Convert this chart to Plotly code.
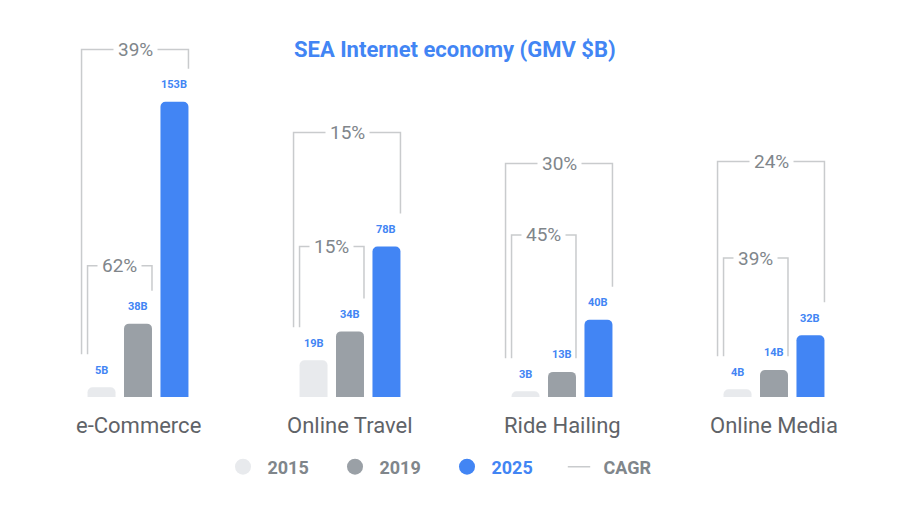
import numpy as np
import plotly.graph_objects as go

# --- DATA ---
categories = ["e-Commerce", "Online Travel", "Ride Hailing", "Online Media"]
gmv_2015 = [5, 19, 3, 4]
gmv_2019 = [38, 34, 13, 14]
gmv_2025 = [153, 78, 40, 32]
cagr_2015_2025 = ["39%", "15%", "30%", "24%"]
cagr_2015_2019 = ["62%", "15%", "45%", "39%"]

# --- LOOK ---
C_2015 = "#e8eaed"
C_2019 = "#9aa0a6"
C_2025 = "#4285f4"
C_LINE = "#c9cbcd"
C_TEXT = "#80868b"
FONT = "Roboto"

PAGE = 8                # the html body margin pushes the figure 8px right/down
W, H = 903 - 2 * PAGE, 508 - 2 * PAGE
PX_PER_UNIT_X = 212.0   # px between group centres
PX_PER_B = 1.93         # px per $B
BASE_PX = 397 - PAGE    # pixel row of the bar baseline (in figure px)

OFFSET = 0.172          # bar offset inside a group (group units)
BAR_W = 0.132
HALF = BAR_W / 2
LABEL_SHIFT = 17        # px between bar top and value label
LEG_GAP = 33 / PX_PER_B  # bracket leg stops this far above a bar (in $B)

# bracket heights ($B units)
outer_top = [180, 137, 121, 122]
inner_top = [68, 78, 84, 72]

x_grp = np.arange(len(categories), dtype=float)
x15, x19, x25 = x_grp - OFFSET, x_grp, x_grp + OFFSET

fig = go.Figure()

for xs, vals, col in [(x15, gmv_2015, C_2015), (x19, gmv_2019, C_2019), (x25, gmv_2025, C_2025)]:
    fig.add_trace(go.Bar(x=xs, y=vals, width=BAR_W, marker=dict(color=col, cornerradius=5, line_width=0),
                         showlegend=False, hoverinfo="skip"))

# CAGR brackets
bx, by = [], []
for i in range(len(categories)):
    left_end = gmv_2015[i] + LEG_GAP
    # outer bracket: 2015 -> 2025
    xl = x15[i] - HALF - 6 / PX_PER_UNIT_X
    xr = x25[i] + HALF
    bx += [xl, xl, xr, xr, None]
    by += [left_end, outer_top[i], outer_top[i], gmv_2025[i] + LEG_GAP, None]
    # inner bracket: 2015 -> 2019 (leg drops to the left leg level when the label sits clear of it)
    xl = x15[i] - HALF
    xr = x19[i] + HALF
    r_end = gmv_2019[i] + LEG_GAP if gmv_2019[i] > 20 else left_end
    bx += [xl, xl, xr, xr, None]
    by += [left_end, inner_top[i], inner_top[i], r_end, None]

fig.add_trace(go.Scatter(x=bx, y=by, mode="lines", line=dict(color=C_LINE, width=1.5),
                         showlegend=False, hoverinfo="skip"))

# legend entries
NB = "\u00a0"
fig.add_trace(go.Scatter(x=[None], y=[None], mode="markers", name=f"{NB}<b>2015</b>",
                         marker=dict(color=C_2015, size=17, symbol="circle")))
fig.add_trace(go.Scatter(x=[None], y=[None], mode="markers", name=f"{NB}<b>2019</b>",
                         marker=dict(color=C_2019, size=17, symbol="circle")))
fig.add_trace(go.Scatter(x=[None], y=[None], mode="markers",
                         name=f"{NB}<span style='color:{C_2025}'><b>2025</b></span>",
                         marker=dict(color=C_2025, size=17, symbol="circle")))
fig.add_trace(go.Scatter(x=[None], y=[None], mode="markers", name=f"{NB}<b>CAGR</b>",
                         marker=dict(symbol="line-ew", size=17, line=dict(color=C_LINE, width=1.5))))

annotations = []
# value labels
for xs, vals in [(x15, gmv_2015), (x19, gmv_2019), (x25, gmv_2025)]:
    for x, v in zip(xs, vals):
        annotations.append(dict(x=x, y=v, yshift=LABEL_SHIFT, text=f"<b>{v}B</b>", showarrow=False,
                                font=dict(family=FONT, size=11, color=C_2025)))
# CAGR labels
for i in range(len(categories)):
    xc = ((x15[i] - HALF - 6 / PX_PER_UNIT_X) + (x25[i] + HALF)) / 2
    annotations.append(dict(x=xc, y=outer_top[i], text=cagr_2015_2025[i], showarrow=False,
                            bgcolor="white", borderpad=4,
                            font=dict(family=FONT, size=19, color=C_TEXT)))
    xc = ((x15[i] - HALF) + (x19[i] + HALF)) / 2
    annotations.append(dict(x=xc, y=inner_top[i], text=cagr_2015_2019[i], showarrow=False,
                            bgcolor="white", borderpad=4,
                            font=dict(family=FONT, size=19, color=C_TEXT)))
# category labels
for i, c in enumerate(categories):
    annotations.append(dict(x=x_grp[i], y=0, yshift=-28, text=c, showarrow=False,
                            font=dict(family=FONT, size=22, color="#5f6368")))
# title
annotations.append(dict(x=(455 - PAGE) / W, y=1 - (50 - PAGE) / H, xref="paper", yref="paper",
                        xanchor="center", yanchor="middle",
                        text="<b>SEA Internet economy (GMV $B)</b>", showarrow=False,
                        font=dict(family=FONT, size=22, color=C_2025)))

x0 = -(138 - PAGE) / PX_PER_UNIT_X
y0 = -(H - BASE_PX) / PX_PER_B
fig.update_layout(
    width=W, height=H,
    margin=dict(l=0, r=0, t=0, b=0, autoexpand=False),
    plot_bgcolor="white", paper_bgcolor="white",
    barmode="overlay",
    xaxis=dict(range=[x0, x0 + W / PX_PER_UNIT_X], visible=False, fixedrange=True),
    yaxis=dict(range=[y0, y0 + H / PX_PER_B], visible=False, fixedrange=True),
    showlegend=True,
    legend=dict(orientation="h", x=(447 - PAGE) / W, y=1 - (467 - PAGE) / H, xanchor="center", yanchor="middle",
                font=dict(family=FONT, size=18, color=C_TEXT), itemsizing="trace",
                itemwidth=30, entrywidth=67, bgcolor="rgba(0,0,0,0)"),
    annotations=annotations,
)

fig.write_html("out.html")
